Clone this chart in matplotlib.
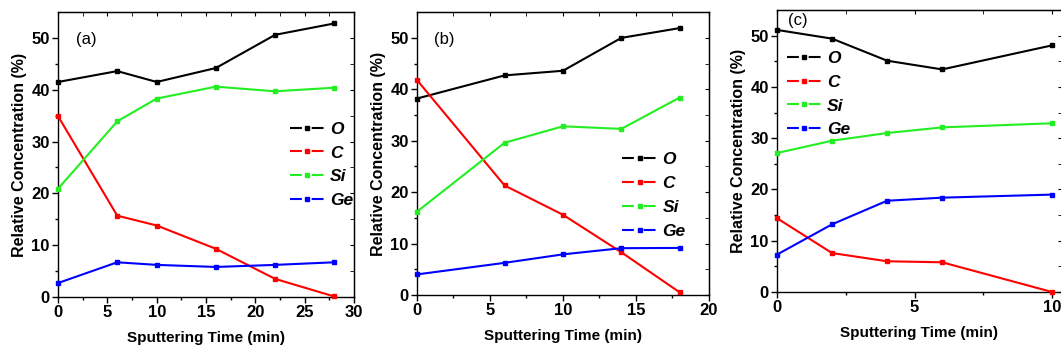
import matplotlib
matplotlib.use('Agg')
import matplotlib.pyplot as plt
from matplotlib.lines import Line2D

plt.rcParams['font.family'] = ['Liberation Sans']
plt.rcParams['font.weight'] = 'bold'
plt.rcParams['axes.labelweight'] = 'bold'
plt.rcParams['font.size'] = 12

# panel (a)
time_a = [0, 6, 10, 16, 22, 28]
o_a = [41.5, 43.6, 41.5, 44.2, 50.6, 52.8]
c_a = [34.9, 15.7, 13.8, 9.3, 3.5, 0.1]
si_a = [20.9, 33.9, 38.3, 40.6, 39.7, 40.4]
ge_a = [2.7, 6.7, 6.2, 5.8, 6.2, 6.7]

# panel (b)
time_b = [0, 6, 10, 14, 18]
o_b = [38.2, 42.7, 43.6, 50.0, 51.9]
c_b = [41.8, 21.3, 15.6, 8.3, 0.5]
si_b = [16.2, 29.6, 32.8, 32.3, 38.4]
ge_b = [4.0, 6.25, 7.9, 9.1, 9.15]

# panel (c)
time_c = [0, 2, 4, 6, 10]
o_c = [51.1, 49.4, 45.1, 43.4, 48.1]
c_c = [14.4, 7.6, 6.0, 5.8, 0.0]
si_c = [27.1, 29.5, 31.0, 32.1, 32.9]
ge_c = [7.3, 13.2, 17.8, 18.4, 19.0]

labels = ['O', 'C', 'Si', 'Ge']
colors = ['black', '#ff0000', '#22ee22', '#0000ff']

panels = [
    dict(t=time_a, ys=[o_a, c_a, si_a, ge_a], tag='(a)',
         pos=[0.0547, 0.161, 0.279, 0.805], xlim=(0, 30), xticks=[0, 5, 10, 15, 20, 25, 30],
         xminor=[2.5, 7.5, 12.5, 17.5, 22.5, 27.5], tagxy=(0.06, 0.93), legxy=(0.76, 0.64)),
    dict(t=time_b, ys=[o_b, c_b, si_b, ge_b], tag='(b)',
         pos=[0.393, 0.1667, 0.2752, 0.799], xlim=(0, 20), xticks=[0, 5, 10, 15, 20],
         xminor=[2.5, 7.5, 12.5, 17.5], tagxy=(0.06, 0.93), legxy=(0.68, 0.53)),
    dict(t=time_c, ys=[o_c, c_c, si_c, ge_c], tag='(c)',
         pos=[0.7323, 0.175, 0.2686, 0.797], xlim=(0, 10.35), xticks=[0, 5, 10],
         xminor=[2.5, 7.5], tagxy=(0.04, 0.99), legxy=(0.01, 0.88)),
]

fig = plt.figure(figsize=(10.61, 3.54), dpi=100)

for p in panels:
    ax = fig.add_axes(p['pos'])
    for y, lab, col in zip(p['ys'], labels, colors):
        ax.plot(p['t'], y, color=col, linewidth=1.5, marker='s', markersize=3,
                clip_on=False, zorder=3)
    ax.set_xlim(*p['xlim'])
    ax.set_ylim(0, 55)
    ax.set_xticks(p['xticks'])
    ax.set_xticks(p['xminor'], minor=True)
    ax.set_yticks([0, 10, 20, 30, 40, 50])
    ax.set_yticks([5, 15, 25, 35, 45], minor=True)
    ax.tick_params(which='major', direction='out', length=4, width=1, pad=2)
    ax.tick_params(which='minor', direction='out', length=2.5, width=1)
    for s in ax.spines.values():
        s.set_linewidth(1)
    top = ax.secondary_xaxis('top')
    top.set_xticks(p['xticks'])
    top.set_xticks(p['xminor'], minor=True)
    top.tick_params(which='both', direction='in', labeltop=False, length=3)
    right = ax.secondary_yaxis('right')
    right.set_yticks([0, 10, 20, 30, 40, 50])
    right.set_yticks([5, 15, 25, 35, 45], minor=True)
    right.tick_params(which='both', direction='in', labelright=False, length=3)

    ax.set_xlabel('Sputtering Time (min)', labelpad=8, fontsize=11)
    ax.set_ylabel('Relative Concentration (%)', labelpad=3, fontsize=11.5)
    ax.text(p['tagxy'][0], p['tagxy'][1], p['tag'], transform=ax.transAxes,
            fontsize=12, fontweight='normal', ha='left', va='top')

    handles = [Line2D([], [], color=col, linewidth=1.5, linestyle=(0, (5.7, 4.7)),
                      marker='s', markersize=3) for col in colors]
    ax.legend(handles, labels, loc='upper left', bbox_to_anchor=p['legxy'],
              frameon=False, handlelength=2.0, handletextpad=0.3, labelspacing=0.5,
              borderaxespad=0, prop=dict(weight='bold', style='italic', size=12.5))

fig.savefig('out.png', dpi=100)
